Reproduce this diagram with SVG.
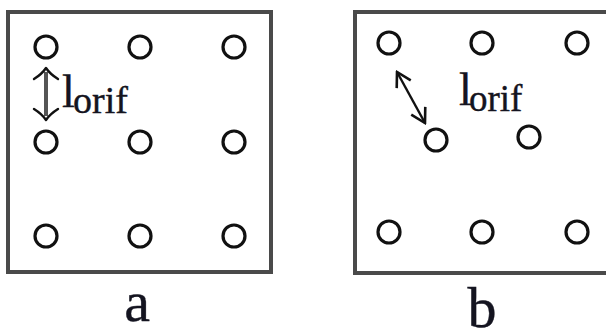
<svg xmlns="http://www.w3.org/2000/svg" width="606" height="331" viewBox="0 0 606 331">
<style>
  .frame { fill: #ffffff; stroke: #4a4a4a; stroke-width: 4; }
  .hole { fill: none; stroke: #111111; stroke-width: 3.2; }
  .txt { font-family: "Liberation Serif", "Times New Roman", serif; fill: #141420; stroke: #141420; stroke-width: 0.4; }
  .cap { font-size: 58px; text-anchor: middle; }
  .dim { stroke: #111111; stroke-width: 2.4; fill: none; stroke-linecap: round; stroke-linejoin: round; }
</style>
<defs>
  <marker id="openhead" viewBox="0 0 20 20" refX="18" refY="10" markerWidth="20" markerHeight="20" markerUnits="userSpaceOnUse" orient="auto-start-reverse">
    <path d="M4,2 L18,10 L4,18" fill="none" stroke="#111111" stroke-width="2.6" stroke-linejoin="miter"/>
  </marker>
</defs>
<rect width="606" height="331" fill="#ffffff"/>

<g id="panel-a">
  <rect id="frame-a" class="frame" x="8" y="12" width="263" height="260"/>
  <g id="holes-a">
    <circle id="a-r1c1" class="hole" cx="46" cy="47" r="11"/>
    <circle id="a-r1c2" class="hole" cx="140" cy="47" r="11"/>
    <circle id="a-r1c3" class="hole" cx="234" cy="47" r="11"/>
    <circle id="a-r2c1" class="hole" cx="46" cy="142" r="11"/>
    <circle id="a-r2c2" class="hole" cx="140" cy="142" r="11"/>
    <circle id="a-r2c3" class="hole" cx="234" cy="142" r="11"/>
    <circle id="a-r3c1" class="hole" cx="46" cy="236" r="11"/>
    <circle id="a-r3c2" class="hole" cx="140" cy="236" r="11"/>
    <circle id="a-r3c3" class="hole" cx="234" cy="236" r="11"/>
  </g>
  <text id="label-a-lorif" class="txt"><tspan x="62" y="107" font-size="46">l</tspan><tspan x="73" y="113" font-size="38">orif</tspan></text>
  <text id="caption-a" class="txt cap" x="137" y="321">a</text>
</g>

<g id="panel-b">
  <path id="frame-b" d="M606,12 L355,12 L355,273 L606,273" fill="#ffffff" stroke="#4a4a4a" stroke-width="4"/>
  <g id="holes-b">
    <circle id="b-r1c1" class="hole" cx="389" cy="43" r="11"/>
    <circle id="b-r1c2" class="hole" cx="482" cy="43" r="11"/>
    <circle id="b-r1c3" class="hole" cx="577" cy="43" r="11"/>
    <circle id="b-r2c1" class="hole" cx="436" cy="140" r="11"/>
    <circle id="b-r2c2" class="hole" cx="529" cy="137" r="11"/>
    <circle id="b-r3c1" class="hole" cx="389" cy="232" r="11"/>
    <circle id="b-r3c2" class="hole" cx="482" cy="232" r="11"/>
    <circle id="b-r3c3" class="hole" cx="577" cy="232" r="11"/>
  </g>
  <text id="label-b-lorif" class="txt"><tspan x="459" y="105" font-size="46">l</tspan><tspan x="469" y="111" font-size="37">orif</tspan></text>
  <text id="caption-b" class="txt cap" x="482" y="327">b</text>
</g>

<g id="connectors">
  <g id="dim-a">
    <line x1="46" y1="72" x2="46" y2="116" stroke="#555555" stroke-width="4"/>
    <path class="dim" d="M34,79 Q42,74 46,68 Q50,74 58,79"/>
    <path class="dim" d="M34,109 Q42,114 46,120 Q50,114 58,109"/>
  </g>
  <line id="dim-b" x1="425" y1="123" x2="397" y2="72" stroke="#111111" stroke-width="2.4" marker-start="url(#openhead)" marker-end="url(#openhead)"/>
</g>
</svg>
